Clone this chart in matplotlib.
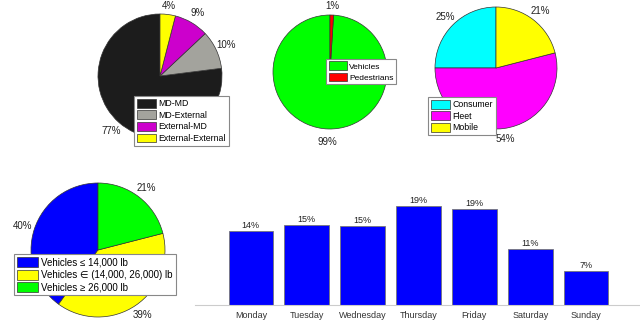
import numpy as np
import matplotlib.pyplot as plt

plt.rcParams['font.family'] = ['Liberation Sans', 'DejaVu Sans']

# data
trip_labels = ['MD-MD', 'MD-External', 'External-MD', 'External-External']
trip_share = [77, 10, 9, 4]
trip_colors = ['#1c1c1c', '#a3a39d', '#cc00cc', '#ffff00']

road_labels = ['Vehicles', 'Pedestrians']
road_share = [99, 1]
road_colors = ['#00ff00', '#ff0000']

user_labels = ['Consumer', 'Fleet', 'Mobile']
user_share = [25, 54, 21]
user_colors = ['#00ffff', '#ff00ff', '#ffff00']

weight_labels = ['Vehicles \u2264 14,000 lb', 'Vehicles \u2208 (14,000, 26,000) lb',
                 'Vehicles \u2265 26,000 lb']
weight_share = [40, 39, 21]
weight_colors = ['#0000ff', '#ffff00', '#00ff00']

days = ['Monday', 'Tuesday', 'Wednesday', 'Thursday', 'Friday', 'Saturday', 'Sunday']
day_share = [14.3, 15.3, 15.2, 19.0, 18.5, 10.8, 6.5]
day_labels = ['14%', '15%', '15%', '19%', '19%', '11%', '7%']

W, H = 640, 336
fig = plt.figure(figsize=(6.4, 3.36), dpi=100)


def px_axes(cx, cy, r):
    return fig.add_axes([(cx - r) / W, (H - cy - r) / H, 2 * r / W, 2 * r / H])


def draw_pie(cx, cy, r, vals, colors, labels, leg_xy, pctd=1.18, legfs=6.3):
    ax = px_axes(cx, cy, r)
    wedges, _, autotexts = ax.pie(vals, colors=colors, startangle=90, counterclock=True,
                                  autopct=lambda p: '%d%%' % round(p), pctdistance=pctd,
                                  wedgeprops=dict(edgecolor='#333333', linewidth=0.5),
                                  textprops=dict(fontsize=7, color='#222222'))
    # keep labels near the top edge inside the figure
    ymax = (cy - 6) / r
    for t in autotexts:
        tx, ty = t.get_position()
        if ty > ymax:
            t.set_position((tx, ymax))
    ax.set_xlim(-1, 1)
    ax.set_ylim(-1, 1)
    leg = ax.legend(wedges, labels, loc='upper left',
                    bbox_to_anchor=(leg_xy[0] / W, 1 - leg_xy[1] / H),
                    bbox_transform=fig.transFigure, fontsize=legfs, fancybox=False,
                    framealpha=1, edgecolor='#888888', borderpad=0.3, labelspacing=0.25,
                    handlelength=2.2, handleheight=1.2, handletextpad=0.3, borderaxespad=0)
    leg.get_frame().set_linewidth(0.8)
    return ax


draw_pie(160, 76, 62, trip_share, trip_colors, trip_labels, (134, 96))
draw_pie(330, 72, 57, road_share, road_colors, road_labels, (326, 59), pctd=1.22, legfs=6.0)
draw_pie(496, 68, 61, user_share, user_colors, user_labels, (428, 97))
draw_pie(98, 250, 67, weight_share, weight_colors, weight_labels, (14, 254), legfs=7.0)

# bar chart
base_y = 305
top_y = 305 - 22 * 5.2
bx = fig.add_axes([195 / W, (H - base_y) / H, (642 - 195) / W, (base_y - top_y) / H])
x = np.arange(len(days))
bars = bx.bar(x, day_share, width=0.8, color='#0000ff', edgecolor='#777777', linewidth=0.6)
for b, lab in zip(bars, day_labels):
    bx.text(b.get_x() + b.get_width() / 2, b.get_height() + 0.2, lab,
            ha='center', va='bottom', fontsize=6.5, color='#222222')
bx.set_xlim(-1, 7)
bx.set_ylim(0, 22)
bx.set_xticks(x)
bx.set_xticklabels(days, fontsize=6.5, color='#333333')
bx.set_yticks([])
for s in ['top', 'right', 'left']:
    bx.spines[s].set_visible(False)
bx.spines['bottom'].set_color('#cccccc')
bx.tick_params(axis='x', length=0, pad=4)

fig.savefig('out.png', dpi=100)
